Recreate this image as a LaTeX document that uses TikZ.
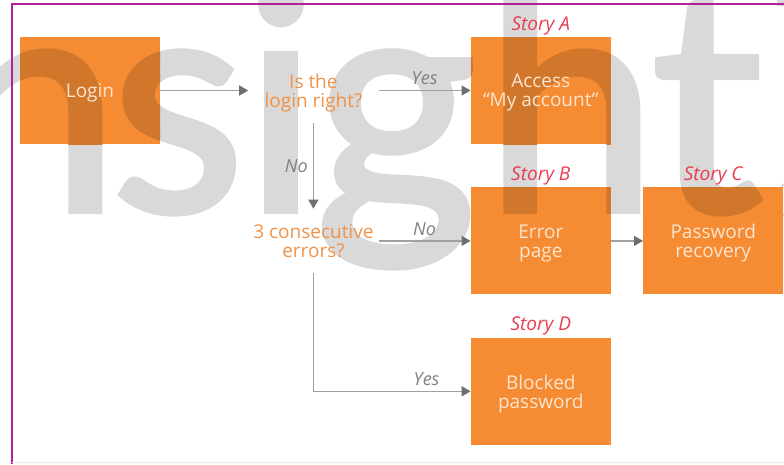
\documentclass[tikz,border=0pt]{standalone}
\usepackage{fontspec}
\setmainfont{Open Sans}
\newfontfamily\markfont[FakeBold=2]{Lato}
\usetikzlibrary{arrows.meta,positioning}

\definecolor{boxorange}{RGB}{245,140,52}
\definecolor{markgray}{RGB}{217,217,217}
\definecolor{markorange}{RGB}{208,119,44}
\definecolor{boxtext}{RGB}{252,228,205}
\definecolor{asktext}{RGB}{240,146,72}
\definecolor{storyred}{RGB}{232,60,80}
\definecolor{answergray}{RGB}{128,128,128}
\definecolor{linegray}{RGB}{160,160,160}
\definecolor{tipgray}{RGB}{110,111,115}
\definecolor{framepink}{RGB}{180,32,150}

\tikzset{
   markletter/.style={
      font=\markfont\fontsize{310}{310}\selectfont,
      inner sep=0pt,
      anchor=base}}

% the big grey word behind the chart, one letter at a time
\newcommand{\nsightmark}[1]{%
  \foreach \glyph/\gx in {n/33,s/178,i/281,g/396,h/571,t/707}
    \node[markletter,text=#1] (mark-\glyph) at (\gx,211) {\glyph};}

\begin{document}
\begin{tikzpicture}[
      x=1pt, y=-1pt,
      story/.style={
         rectangle,
         fill=boxorange,
         text=boxtext,
         align=center,
         minimum width=140pt,
         minimum height=107pt,
         inner sep=0pt,
         text depth=0pt,
         font=\fontsize{19}{19}\selectfont,
         path picture={\pgftransformreset\nsightmark{markorange}}},
      storytag/.style={
         text=storyred,
         inner sep=2pt,
         font=\itshape\fontsize{19}{19}\selectfont},
      ask/.style={
         text=asktext,
         align=center,
         minimum width=130pt,
         minimum height=64pt,
         inner sep=0pt,
         text depth=0pt,
         font=\fontsize{19}{19}\selectfont},
      answer/.style={
         text=answergray,
         inner sep=5pt,
         font=\itshape\fontsize{18}{18}\selectfont},
      myarrow/.style={
         draw=linegray,
         line width=1.5pt,
         -{Triangle[length=9pt,width=10pt,color=tipgray]}},
      node distance=86pt and 88pt
      ]
      \useasboundingbox (0,0) rectangle (784,464);
      \clip (0,0) rectangle (784,464);
      \nsightmark{markgray}
      \fill[markgray] (777,0) rectangle (784,6);
      \draw[markgray, line width=2pt] (798,200) circle (21pt);
      \draw[framepink, line width=1.5pt] (784,4) -- (12,4) -- (12,464);
      \draw[framepink!12, line width=1pt] (12,462.5) -- (784,462.5);

      \node[story] (login) at (90,90.5) {Login};
      \node[ask,right=of login] (ask1) {Is the\\login right?};
      \node[story,right=92pt of ask1,label={[storytag]above:Story A}] (access) {Access\\``My account''};
      \node[ask,below=of ask1] (ask2) {3 consecutive\\errors?};
      \node[story,right=92pt of ask2,label={[storytag]above:Story B}] (error) {Error\\page};
      \node[story,right=32pt of error,label={[storytag]above:Story C}] (recovery) {Password\\recovery};
      \node[story,below=43pt of error,label={[storytag]above:Story D}] (blocked) {Blocked\\password};

      \draw[myarrow] (login) -- (ask1);
      \draw[myarrow] (ask1) -- node[answer,above] {Yes} (access);
      \draw[myarrow] (ask1) -- node[answer,left] {No} (ask2);
      \draw[myarrow] (ask2) -- node[answer,above] {No} (error);
      \draw[myarrow] (ask2) |- node[answer,above,pos=0.86] {Yes} (blocked);
      \draw[myarrow] (error) -- (recovery);
\end{tikzpicture}
\end{document}
